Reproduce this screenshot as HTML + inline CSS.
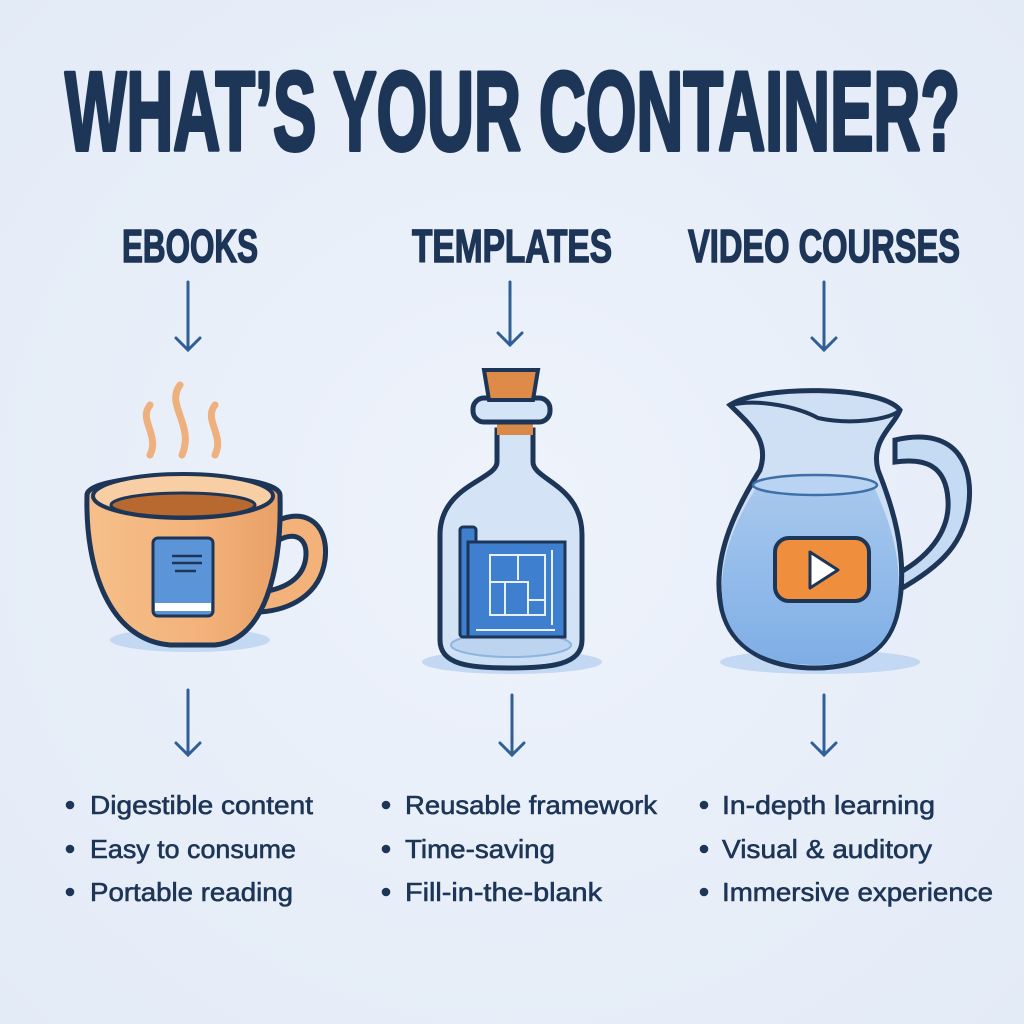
<!DOCTYPE html>
<html><head><meta charset="utf-8"><style>
html,body{margin:0;padding:0;background:#e9eff9;}
svg{display:block}
text{font-family:"Liberation Sans",sans-serif;fill:#1d3557}
</style></head><body>
<svg width="1024" height="1024" viewBox="0 0 1024 1024" xmlns="http://www.w3.org/2000/svg">
<defs>
<radialGradient id="bg" cx="50%" cy="50%" r="70%"><stop offset="0" stop-color="#eef3fb"/><stop offset="1" stop-color="#e3ebf7"/></radialGradient>
<linearGradient id="cup" x1="0" x2="1"><stop offset="0" stop-color="#f6bf8a"/><stop offset="0.6" stop-color="#f3b27a"/><stop offset="1" stop-color="#e8a066"/></linearGradient>
<linearGradient id="water" x1="0" y1="0" x2="0" y2="1"><stop offset="0" stop-color="#a9c9ee"/><stop offset="1" stop-color="#7eaee6"/></linearGradient>
</defs>
<rect width="1024" height="1024" fill="url(#bg)"/>
<text x="65" y="150" font-size="112" font-weight="bold" textLength="895" lengthAdjust="spacingAndGlyphs" stroke="#1d3557" stroke-width="4" stroke-linejoin="round">WHAT’S YOUR CONTAINER?</text>
<g stroke="#1d3557" stroke-width="1.5">
<text x="122" y="262" font-size="46" font-weight="bold" textLength="136" lengthAdjust="spacingAndGlyphs">EBOOKS</text>
<text x="412" y="262" font-size="46" font-weight="bold" textLength="200" lengthAdjust="spacingAndGlyphs">TEMPLATES</text>
<text x="688" y="262" font-size="46" font-weight="bold" textLength="272" lengthAdjust="spacingAndGlyphs">VIDEO COURSES</text>
</g>
<g stroke="#2f5f96" stroke-width="3" fill="none" stroke-linecap="round">
<path d="M188 282V350M176 338L188 350L200 338"/>
<path d="M510 282V345M498 333L510 345L522 333"/>
<path d="M824 282V350M812 338L824 350L836 338"/>
<path d="M188 690V755M176 743L188 755L200 743"/>
<path d="M512 695V755M500 743L512 755L524 743"/>
<path d="M824 695V755M812 743L824 755L836 743"/>
</g>
<ellipse cx="190" cy="640" rx="80" ry="12" fill="#b9d2f0" opacity=".8"/>
<ellipse cx="512" cy="662" rx="90" ry="12" fill="#b9d2f0" opacity=".8"/>
<ellipse cx="820" cy="662" rx="100" ry="12" fill="#b9d2f0" opacity=".8"/>
<g stroke="#eeb07c" stroke-width="7" fill="none" stroke-linecap="round">
<path d="M150 405C138 420 160 435 150 455"/>
<path d="M180 385C165 405 195 425 182 455"/>
<path d="M215 405C203 420 225 435 215 455"/>
</g>
<path d="M270 525C300 505 330 520 325 560C320 595 290 610 260 612L262 592C290 588 305 575 306 555C307 535 290 530 272 545Z" fill="#f3b27a" stroke="#1d3557" stroke-width="5"/>
<path d="M87 495C85 570 110 640 170 645L215 645C265 640 282 570 280 495C280 470 87 470 87 495Z" fill="url(#cup)" stroke="#1d3557" stroke-width="5"/>
<ellipse cx="183" cy="496" rx="90" ry="22" fill="#f8cfa4" stroke="#1d3557" stroke-width="4"/>
<ellipse cx="183" cy="505" rx="72" ry="12" fill="#b8692f" stroke="#1d3557" stroke-width="3"/>
<rect x="153" y="538" width="60" height="78" rx="5" fill="#5b95d8" stroke="#1d3557" stroke-width="3"/>
<rect x="155" y="603" width="56" height="8" fill="#fff"/>
<path d="M172 556H202M172 563H202M175 571H196" stroke="#1d3557" stroke-width="2.5"/>
<!-- bottle -->
<path d="M497 430V462C497 480 440 485 440 535V640C440 665 470 668 510 668C550 668 582 665 582 640V535C582 485 533 480 533 462V430Z" fill="#cfe0f5" fill-opacity=".85" stroke="#1d3557" stroke-width="5"/>
<ellipse cx="511" cy="645" rx="60" ry="12" fill="#bcd4f0" stroke="#8fb4e0" stroke-width="2"/>
<rect x="497" y="420" width="36" height="15" fill="#d98a48"/>
<rect x="473" y="398" width="77" height="24" rx="11" fill="#d5e5f8" stroke="#1d3557" stroke-width="5"/>
<path d="M484 370H538L533 400H489Z" fill="#de8a48" stroke="#1d3557" stroke-width="4"/>
<rect x="460" y="527" width="16" height="110" rx="3" fill="#3f7fd0" stroke="#1d3557" stroke-width="3"/>
<rect x="468" y="542" width="97" height="95" fill="#3f7fd0" stroke="#1d3557" stroke-width="3"/>
<g stroke="#e6f0ff" stroke-width="2" fill="none"><rect x="490" y="555" width="55" height="60"/><path d="M518 555V580M490 582H528V615M505 582V615M528 600H545M552 550V625M476 630H555"/></g>
<!-- pitcher -->
<path d="M895 440C960 425 975 470 968 510C962 545 940 570 880 600L885 580C930 560 950 530 948 500C946 465 925 458 895 462Z" fill="#c5dbf4" stroke="#1d3557" stroke-width="5"/>
<path d="M730 405C750 425 770 440 760 470C735 510 710 560 722 610C732 650 770 668 815 668C860 668 890 650 898 610C910 555 890 500 878 470C870 440 895 425 900 410C880 385 760 385 730 405Z" fill="#cfe0f5" stroke="#1d3557" stroke-width="5"/>
<path d="M758 485C735 520 715 565 724 610C734 650 770 665 815 665C860 665 888 650 896 610C905 565 890 520 873 485C840 478 790 478 758 485Z" fill="url(#water)"/>
<ellipse cx="815" cy="485" rx="62" ry="10" fill="#b9d4f2" stroke="#3f6fa8" stroke-width="2.5"/>
<path d="M730 405C760 398 800 408 818 418C850 425 890 420 900 410" fill="none" stroke="#1d3557" stroke-width="4"/>
<rect x="775" y="538" width="94" height="63" rx="14" fill="#ef8f3e" stroke="#1d3557" stroke-width="4"/>
<path d="M810 552L838 570L810 588Z" fill="#fff" stroke="#1d3557" stroke-width="3" stroke-linejoin="round"/>
<g font-size="26" stroke="#1d3557" stroke-width="0.6">
<circle cx="70" cy="805" r="4" fill="#1d3557"/><text x="90" y="814" textLength="223" lengthAdjust="spacingAndGlyphs">Digestible content</text>
<circle cx="70" cy="849" r="4" fill="#1d3557"/><text x="90" y="858" textLength="206" lengthAdjust="spacingAndGlyphs">Easy to consume</text>
<circle cx="70" cy="892" r="4" fill="#1d3557"/><text x="90" y="901" textLength="203" lengthAdjust="spacingAndGlyphs">Portable reading</text>
<circle cx="386" cy="805" r="4" fill="#1d3557"/><text x="405" y="814" textLength="252" lengthAdjust="spacingAndGlyphs">Reusable framework</text>
<circle cx="386" cy="849" r="4" fill="#1d3557"/><text x="405" y="858" textLength="150" lengthAdjust="spacingAndGlyphs">Time-saving</text>
<circle cx="386" cy="892" r="4" fill="#1d3557"/><text x="405" y="901" textLength="197" lengthAdjust="spacingAndGlyphs">Fill-in-the-blank</text>
<circle cx="704" cy="805" r="4" fill="#1d3557"/><text x="722" y="814" textLength="213" lengthAdjust="spacingAndGlyphs">In-depth learning</text>
<circle cx="704" cy="849" r="4" fill="#1d3557"/><text x="722" y="858" textLength="210" lengthAdjust="spacingAndGlyphs">Visual &amp; auditory</text>
<circle cx="704" cy="892" r="4" fill="#1d3557"/><text x="722" y="901" textLength="271" lengthAdjust="spacingAndGlyphs">Immersive experience</text>
</g>
</svg>
</body></html>
